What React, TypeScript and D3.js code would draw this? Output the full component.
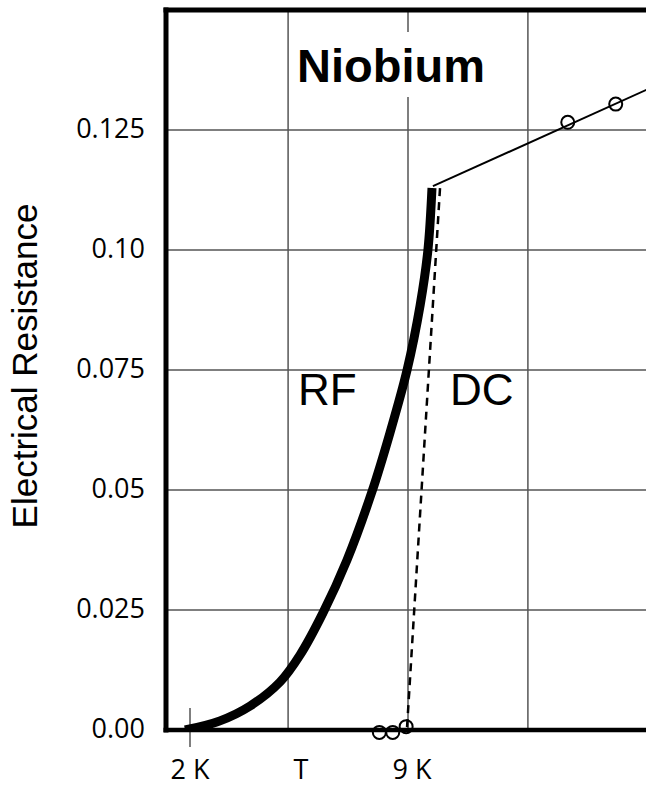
import React from "react";
import * as d3 from "d3";

// RF resistance curve (temperature in K, resistance)
const rfTemp = [1.84, 2.96, 3.93, 4.89, 5.53, 6.27, 7.04, 7.84, 8.42, 8.97, 9.39, 9.64, 9.77];
const rfRes = [0, 0.0019, 0.005, 0.01, 0.0156, 0.0244, 0.0354, 0.0496, 0.0619, 0.075, 0.0885, 0.1, 0.1129];

// DC transition (dashed)
const dcDashTemp = [8.97, 10.03];
const dcDashRes = [0.0006, 0.1131];

// Normal-state line
const normalTemp = [9.8, 16.7];
const normalRes = [0.1133, 0.1335];

// measured points (circles)
const normalPtTemp = [14.13, 15.67];
const normalPtRes = [0.1266, 0.1304];
const superPtTemp = [8.08, 8.51, 8.94];
const superPtRes = [-0.0005, -0.0005, 0.0007];

// axes
const yTicks = [0, 0.025, 0.05, 0.075, 0.1, 0.125];
const yTickLabels = ["0.00", "0.025", "0.05", "0.075", "0.10", "0.125"];
const xGrid = [5.15, 9, 12.85];
const xLabelVals = [2, 5.56, 9.13];
const xLabelTexts = ["2 K", "T", "9 K"];

const W = 646;
const H = 786;
const left = 166;
const top = 10;
const bottom = 730;

export default function App() {
  const x = d3.scaleLinear().domain([2, 9]).range([190, 408]);
  const y = d3.scaleLinear().domain([0, 0.15]).range([bottom, top]);

  const line = d3
    .line<[number, number]>()
    .x((d) => x(d[0]))
    .y((d) => y(d[1]));
  const curve = d3
    .line<[number, number]>()
    .x((d) => x(d[0]))
    .y((d) => y(d[1]))
    .curve(d3.curveCatmullRom.alpha(0.5));

  const rf = rfTemp.map((t, i) => [t, rfRes[i]] as [number, number]);
  const dash = dcDashTemp.map((t, i) => [t, dcDashRes[i]] as [number, number]);
  const normal = normalTemp.map((t, i) => [t, normalRes[i]] as [number, number]);

  const grid = "#555";
  const tickFont = "'Open Sans', sans-serif";
  const sans = "'Liberation Sans', Arial, sans-serif";

  return (
    <svg
      width={W}
      height={H}
      style={{ position: "absolute", left: 0, top: 0, background: "#fff" }}
    >
      <defs>
        <clipPath id="plot">
          <rect x={left} y={top} width={W - left} height={bottom - top} />
        </clipPath>
      </defs>
      <rect x={0} y={0} width={W} height={H} fill="#fff" />
      {/* grid */}
      {yTicks.slice(1).map((v) => (
        <line key={"gy" + v} x1={left} x2={W} y1={y(v)} y2={y(v)} stroke={grid} strokeWidth={1.5} />
      ))}
      {xGrid.map((v) => (
        <line key={"gx" + v} x1={x(v)} x2={x(v)} y1={top} y2={bottom} stroke={grid} strokeWidth={1.5} />
      ))}
      {/* 2K tick */}
      <line x1={x(2)} x2={x(2)} y1={708} y2={747} stroke={grid} strokeWidth={1.5} />
      {/* white box behind title */}
      <rect x={378} y={32} width={57} height={65} fill="#fff" />
      {/* title */}
      <text x={297} y={82} fontFamily={sans} fontWeight="bold" fontSize={47} fill="#000">
        Niobium
      </text>
      {/* RF / DC labels */}
      <text x={298} y={405} fontFamily={sans} fontSize={44} fill="#000">
        RF
      </text>
      <text x={450} y={405} fontFamily={sans} fontSize={44} fill="#000">
        DC
      </text>
      <g clipPath="url(#plot)">
        {/* normal state line */}
        <path d={line(normal) || ""} fill="none" stroke="#000" strokeWidth={2} />
        {/* DC dashed transition */}
        <path d={line(dash) || ""} fill="none" stroke="#000" strokeWidth={2.5} strokeDasharray="8 6" />
        {/* RF curve */}
        <path d={curve(rf) || ""} fill="none" stroke="#000" strokeWidth={9} strokeLinecap="butt" />
      </g>
      {/* frame */}
      <line x1={left} x2={left} y1={top - 2.5} y2={bottom + 2.5} stroke="#000" strokeWidth={5} />
      <line x1={left - 2.5} x2={W} y1={top} y2={top} stroke="#000" strokeWidth={5} />
      <line x1={left - 2.5} x2={W} y1={bottom} y2={bottom} stroke="#000" strokeWidth={4.5} />
      {/* circles */}
      {normalPtTemp.map((t, i) => (
        <circle key={"n" + i} cx={x(t)} cy={y(normalPtRes[i])} r={6.5} fill="none" stroke="#000" strokeWidth={2} />
      ))}
      {superPtTemp.map((t, i) => (
        <circle key={"s" + i} cx={x(t)} cy={y(superPtRes[i])} r={6.5} fill="none" stroke="#000" strokeWidth={2} />
      ))}
      {/* y tick labels */}
      {yTicks.map((v, i) => (
        <text key={"yl" + v} x={145} y={y(v) + 8} textAnchor="end" fontFamily={tickFont} fontSize={27} fill="#000">
          {yTickLabels[i]}
        </text>
      ))}
      {/* x labels */}
      {xLabelVals.map((v, i) => (
        <text key={"xl" + i} x={x(v)} y={779} textAnchor="middle" fontFamily={tickFont} fontSize={27} fill="#000">
          {xLabelTexts[i]}
        </text>
      ))}
      {/* y axis title */}
      <text
        transform={`translate(37,366) rotate(-90)`}
        textAnchor="middle"
        fontFamily={sans}
        fontSize={35}
        fill="#000"
      >
        Electrical Resistance
      </text>
    </svg>
  );
}
